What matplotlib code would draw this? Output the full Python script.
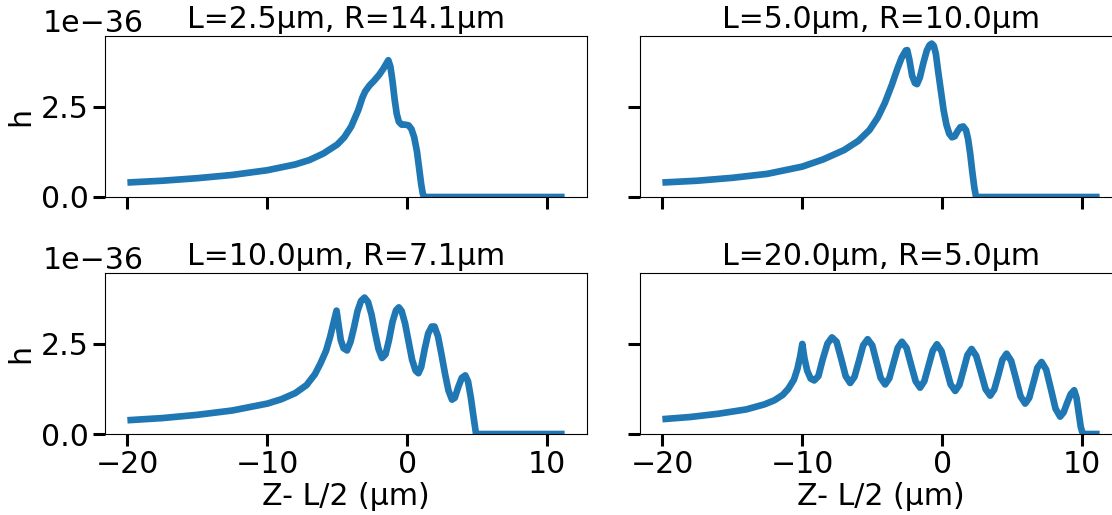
import matplotlib
matplotlib.use("Agg")
import matplotlib.pyplot as plt
from matplotlib.ticker import MultipleLocator

titles = ["L=2.5μm, R=14.1μm", "L=5.0μm, R=10.0μm",
          "L=10.0μm, R=7.1μm", "L=20.0μm, R=5.0μm"]

x1 = [-20, -17.5, -15, -12.5, -10, -8, -7, -6, -5, -4.5, -4, -3.5, -3.2,
      -3.0, -2.7, -2.4, -2.0, -1.7, -1.35, -1.2, -1.05, -0.9, -0.75, -0.6,
      -0.4, -0.15, 0.1, 0.3, 0.5, 0.7, 0.85, 1.0, 1.12, 1.2, 11.25]
y1 = [0.40, 0.45, 0.52, 0.61, 0.74, 0.9, 1.02, 1.2, 1.45, 1.65, 1.95, 2.4,
      2.75, 2.92, 3.08, 3.2, 3.38, 3.55, 3.78, 3.6, 3.2, 2.7, 2.3, 2.08,
      2.0, 2.0, 1.98, 1.88, 1.65, 1.25, 0.8, 0.35, 0.08, 0.0, 0.0]

x2 = [-20, -17.5, -15, -12.5, -10, -8.5, -7, -6, -5.2, -4.6, -4.1, -3.6,
      -3.2, -2.9, -2.6, -2.5, -2.35, -2.15, -1.95, -1.8, -1.6, -1.35, -1.1,
      -0.9, -0.75, -0.6, -0.45, -0.3, -0.1, 0.1, 0.3, 0.5, 0.7, 0.9, 1.1,
      1.3, 1.5, 1.7, 1.85, 2.0, 2.15, 2.3, 2.42, 11.25]
y2 = [0.40, 0.45, 0.53, 0.64, 0.84, 1.04, 1.3, 1.55, 1.85, 2.2, 2.6, 3.1,
      3.55, 3.85, 4.05, 4.06, 3.8, 3.35, 3.15, 3.12, 3.3, 3.7, 4.05,
      4.2, 4.24, 4.18, 3.95, 3.5, 2.95, 2.4, 2.0, 1.75, 1.65, 1.68, 1.82,
      1.93, 1.95, 1.85, 1.6, 1.2, 0.7, 0.25, 0.0, 0.0]

x3 = [-20, -17.5, -15, -12.5, -10, -9, -8, -7.2, -6.6, -6.2, -5.8, -5.5,
      -5.25, -5.05, -4.9, -4.75, -4.55, -4.3, -4.05, -3.8, -3.55, -3.3,
      -3.05, -2.8, -2.55, -2.3, -2.05, -1.8, -1.55, -1.3, -1.05, -0.8, -0.6,
      -0.4, -0.15, 0.1, 0.35, 0.6, 0.8, 1.0, 1.25, 1.5, 1.75, 1.95, 2.2,
      2.45, 2.7, 2.95, 3.2, 3.4, 3.65, 3.9, 4.15, 4.35, 4.55, 4.75, 4.92,
      11.25]
y3 = [0.38, 0.44, 0.53, 0.65, 0.84, 0.96, 1.13, 1.35, 1.65, 1.95, 2.3, 2.7,
      3.1, 3.41, 3.0, 2.6, 2.37, 2.31, 2.55, 2.95, 3.4, 3.68,
      3.77, 3.65, 3.3, 2.8, 2.35, 2.1, 2.2, 2.6, 3.1, 3.42, 3.5,
      3.4, 3.05, 2.55, 2.05, 1.75, 1.68, 1.85, 2.35, 2.78, 2.97, 2.97, 2.7,
      2.2, 1.67, 1.2, 0.95, 1.0, 1.3, 1.55, 1.62, 1.45, 1.0, 0.45, 0.0,
      0.0]

x4 = [-20, -18, -16, -14, -12.7, -12, -11.4, -11, -10.6, -10.35, -10.15,
      -10.0, -9.85, -9.65, -9.4, -9.15, -8.85, -8.55, -8.2, -7.88, -7.55,
      -7.2, -6.9, -6.58, -6.27, -5.95, -5.65, -5.33, -5.0, -4.7, -4.4, -4.08,
      -3.78, -3.48, -3.18, -2.88, -2.55, -2.23, -1.9, -1.58, -1.28, -0.98,
      -0.68, -0.38, -0.05, 0.27, 0.6, 0.93, 1.23, 1.52, 1.8, 2.1, 2.43, 2.77,
      3.1, 3.43, 3.72, 4.02, 4.3, 4.6, 4.93, 5.27, 5.6, 5.93, 6.22, 6.52,
      6.8, 7.1, 7.43, 7.77, 8.1, 8.43, 8.68, 8.93, 9.18, 9.43, 9.6, 9.75,
      9.9, 10.05, 11.25]
y4 = [0.41, 0.47, 0.56, 0.68, 0.82, 0.93, 1.08, 1.25, 1.5, 1.8, 2.15,
      2.49, 2.1, 1.75, 1.53, 1.48, 1.6, 2.05, 2.5, 2.67, 2.55,
      2.05, 1.6, 1.41, 1.58, 2.02, 2.45, 2.62, 2.45, 2.0, 1.55, 1.37,
      1.54, 1.96, 2.38, 2.55, 2.38, 1.92, 1.46, 1.28, 1.46, 1.88,
      2.3, 2.48, 2.29, 1.84, 1.37, 1.19, 1.36, 1.77, 2.18, 2.35, 2.16, 1.7,
      1.24, 1.06, 1.23, 1.64, 2.05, 2.22, 2.02, 1.53, 1.04, 0.84, 1.0, 1.42,
      1.83, 1.99, 1.78, 1.24, 0.7, 0.48, 0.6, 0.86, 1.1, 1.21, 1.0, 0.6,
      0.2, 0.0, 0.0]

xs = [x1, x2, x3, x4]
ys = [y1, y2, y3, y4]
scale = 1e-36

plt.rcParams['font.family'] = ['DejaVu Sans']
plt.rcParams['font.size'] = 21.6

fig = plt.figure(figsize=(11.12, 5.15), dpi=100)
W, H = 1112, 515
lefts = [105, 640]
bottoms_top = [197, 434]
aw, ah = 482, 161
axes = []
for r in range(2):
    for c in range(2):
        ax = fig.add_axes([lefts[c] / W, 1 - bottoms_top[r] / H, aw / W, ah / H])
        axes.append(ax)

for i, ax in enumerate(axes):
    ax.plot(xs[i], [v * scale for v in ys[i]], color='#1f77b4', lw=4.8,
            solid_joinstyle='round', solid_capstyle='butt')
    ax.set_title(titles[i], fontsize=21.6, y=1.0, pad=6)
    ax.set_xlim(-21.6, 12.85)
    ax.set_ylim(0, 4.45e-36)
    ax.xaxis.set_major_locator(MultipleLocator(10))
    ax.yaxis.set_major_locator(MultipleLocator(2.5e-36))
    ax.tick_params(axis='both', which='major', length=8.6, width=2.2,
                   labelsize=21.6, pad=3)
    ax.yaxis.get_major_formatter().set_powerlimits((0, 0))
    for s in ax.spines.values():
        s.set_linewidth(0.8)
    r, c = divmod(i, 2)
    if r == 0:
        ax.tick_params(labelbottom=False)
    else:
        ax.set_xlabel("Z- L/2 (μm)", fontsize=21.6, labelpad=2)
    if c == 1:
        ax.tick_params(labelleft=False)
        ax.yaxis.get_offset_text().set_visible(False)
    else:
        ax.set_ylabel("h", fontsize=21.6, labelpad=4)
        ot = ax.yaxis.get_offset_text()
        ot.set_fontsize(21.6)
        ot.set_x(-0.13)

fig.savefig("out.png", dpi=100)
